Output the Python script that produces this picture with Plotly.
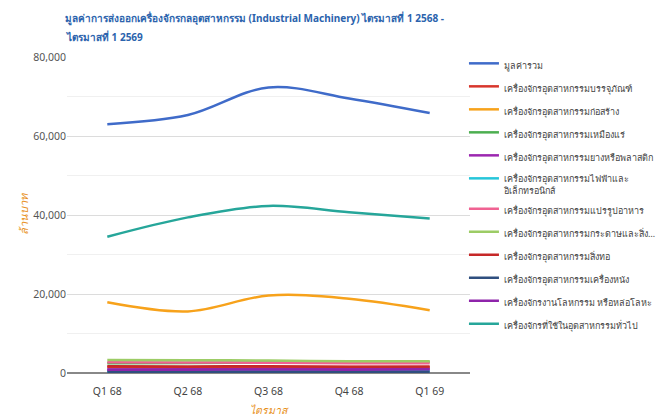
import plotly.graph_objects as go

quarters = ["Q1 68", "Q2 68", "Q3 68", "Q4 68", "Q1 69"]

series_names = [
    "มูลค่ารวม",
    "เครื่องจักรอุตสาหกรรมบรรจุภัณฑ์",
    "เครื่องจักรอุตสาหกรรมก่อสร้าง",
    "เครื่องจักรอุตสาหกรรมเหมืองแร่",
    "เครื่องจักรอุตสาหกรรมยางหรือพลาสติก",
    "เครื่องจักรอุตสาหกรรมไฟฟ้าและ<br>อิเล็กทรอนิกส์",
    "เครื่องจักรอุตสาหกรรมแปรรูปอาหาร",
    "เครื่องจักรอุตสาหกรรมกระดาษและสิ่ง…",
    "เครื่องจักรอุตสาหกรรมสิ่งทอ",
    "เครื่องจักรอุตสาหกรรมเครื่องหนัง",
    "เครื่องจักรงานโลหกรรม หรือหล่อโลหะ",
    "เครื่องจักรที่ใช้ในอุตสาหกรรมทั่วไป",
]

title_line1 = "มูลค่าการส่งออกเครื่องจักรกลอุตสาหกรรม (Industrial Machinery) ไตรมาสที่ 1 2568 -"
title_line2 = "ไตรมาสที่ 1 2569"

total = [63000, 65300, 72300, 69500, 65800]
packaging = [1500, 1450, 1550, 1500, 1450]
construction = [17900, 15600, 19600, 18800, 15900]
mining = [2500, 2550, 2650, 2750, 2800]
rubber_plastic = [900, 950, 1000, 1000, 1100]
electrical = [400, 420, 450, 430, 420]
food = [2700, 2650, 2600, 2500, 2450]
paper = [3300, 3250, 3150, 3000, 2950]
textile = [1700, 1650, 1700, 1600, 1650]
leather = [300, 300, 320, 310, 300]
metal = [800, 850, 900, 850, 950]
general = [34500, 39400, 42300, 40700, 39100]

values = [total, packaging, construction, mining, rubber_plastic, electrical,
          food, paper, textile, leather, metal, general]

colors = ["#3f6bc9", "#d8362c", "#f7a21b", "#4caf50", "#9c27b0", "#26c6da",
          "#f06292", "#9ccc65", "#c62828", "#2f4f7f", "#8e24aa", "#26a69a"]

fig = go.Figure()
for name, vals, col in zip(series_names, values, colors):
    fig.add_trace(go.Scatter(
        x=quarters, y=vals, name=name, mode="lines", legendgroup=name,
        line=dict(color=col, width=2.5, shape="spline", smoothing=1.0),
    ))

# page body has an 8px margin, so the figure is sized to fill the rest of the window
fig.update_layout(
    width=657, height=412,
    margin=dict(l=59, r=195, t=49, b=47, autoexpand=False),
    paper_bgcolor="white", plot_bgcolor="white",
    font=dict(family="Noto Sans, Liberation Sans, sans-serif", size=10, color="#555"),
    title=dict(
        text="<b>" + title_line1 + "</b>",
        x=57 / 657, xanchor="left", xref="container",
        y=1 - 10 / 412, yanchor="middle", yref="container",
        font=dict(size=10, color="#2b63ad"),
    ),
    annotations=[dict(
        text="<b>" + title_line2 + "</b>",
        xref="paper", yref="paper", x=-3 / 403, y=1 + 20 / 316,
        xanchor="left", yanchor="middle", showarrow=False,
        font=dict(size=10, color="#2b63ad"),
    )],
    showlegend=True,
    legend=dict(
        x=0.985, xanchor="left", y=1.019, yanchor="top",
        font=dict(size=9, color="#444"),
        bgcolor="rgba(0,0,0,0)",
        itemwidth=30, tracegroupgap=4, valign="top",
        maxheight=400,
    ),
    xaxis=dict(
        type="category", range=[-0.5, 4.5],
        showgrid=False, ticks="outside", ticklen=8, tickcolor="rgba(0,0,0,0)",
        zeroline=False, showline=False,
        tickfont=dict(size=10.5, color="#444"),
        title=dict(text="<i>ไตรมาส</i>", font=dict(size=10.5, color="#e8901a"), standoff=10),
    ),
    yaxis=dict(
        range=[0, 80000], dtick=20000, tickformat=",d",
        showgrid=True, gridcolor="#dcdcdc", gridwidth=1,
        minor=dict(dtick=10000, showgrid=True, gridcolor="#f0f0f0"),
        zeroline=True, zerolinecolor="#888", zerolinewidth=2,
        tickfont=dict(size=10.5, color="#555"),
        ticks="", ticklen=0,
        title=dict(text="<i>ล้านบาท</i>", font=dict(size=11, color="#e8901a"), standoff=2),
    ),
)

fig.write_html("out.html")
